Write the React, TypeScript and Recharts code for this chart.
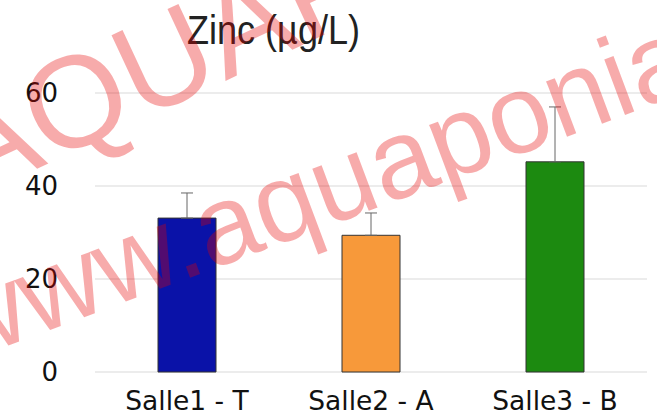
import React from 'react'
import { BarChart, Bar, XAxis, YAxis, CartesianGrid, ErrorBar, Cell } from 'recharts'

// values
const categories = ['Salle1 - T', 'Salle2 - A', 'Salle3 - B']
const zincMeans = [33.1, 29.4, 45.2]
const zincErrors = [5.4, 4.8, 11.8]
const barColors = ['#0a12a8', '#f7993a', '#1c8a10']
const yTicks = [0, 20, 40, 60]

const chartTitle = 'Zinc (µg/L)'
const watermarkTop = 'AQUAPONIA'
const watermarkBottom = 'www.aquaponia'

const data = categories.map((name, i) => ({
  name,
  value: zincMeans[i],
  // Excel style "plus" error bar only
  err: [0, zincErrors[i]],
}))

const W = 657
const H = 416

export default function App() {
  return (
    <div style={{ position: 'absolute', left: 0, top: 0, width: W, height: H, background: '#fff' }}>
      <BarChart
        width={W}
        height={H}
        data={data}
        margin={{ top: 93, right: 10, left: 0, bottom: 0 }}
        barSize={58}
      >
        <CartesianGrid vertical={false} stroke="#d9d9d9" />
        <XAxis
          dataKey="name"
          height={44}
          axisLine={false}
          tickLine={false}
          tickSize={0}
          tickMargin={19}
          interval={0}
          tick={{ fontSize: 26.5, fill: '#111', fontFamily: 'DejaVu Sans' }}
        />
        <YAxis
          width={95}
          domain={[0, 60]}
          ticks={yTicks}
          axisLine={false}
          tickLine={false}
          tickSize={0}
          tickMargin={37}
          tick={{ fontSize: 26, fill: '#111', fontFamily: 'DejaVu Sans' }}
        />
        <Bar dataKey="value" stroke="#333" strokeWidth={1} isAnimationActive={false}>
          {data.map((d, i) => (
            <Cell key={d.name} fill={barColors[i]} />
          ))}
          <ErrorBar dataKey="err" direction="y" width={6} stroke="#666" strokeWidth={1} />
        </Bar>
      </BarChart>

      <svg
        width={W}
        height={H}
        style={{ position: 'absolute', left: 0, top: 0, pointerEvents: 'none' }}
      >
        <text
          x={273.5}
          y={44}
          textAnchor="middle"
          fontSize={40}
          fontFamily="Liberation Sans"
          fill="#222"
          textLength={173}
          lengthAdjust="spacingAndGlyphs"
        >
          {chartTitle}
        </text>
        <g fill="rgb(231,0,0)" fillOpacity={0.33} fontFamily="Liberation Sans">
          <text x={-30} y={200} fontSize={130} transform="rotate(-25 -30 200)">
            {watermarkTop}
          </text>
          <text x={-41} y={364} fontSize={112} transform="rotate(-20.5 -41 364)">
            {watermarkBottom}
          </text>
        </g>
      </svg>
    </div>
  )
}
